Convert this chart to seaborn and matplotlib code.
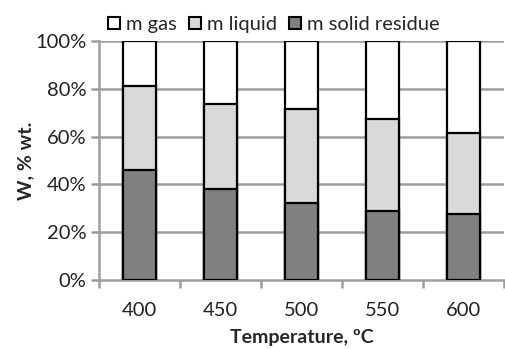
import matplotlib
matplotlib.use("Agg")
import matplotlib.pyplot as plt
import seaborn as sns
import numpy as np
import pandas as pd
from matplotlib.patches import Patch
from matplotlib.ticker import FixedLocator, PercentFormatter

temperatures = ["400", "450", "500", "550", "600"]
m_solid = [46.0, 38.1, 32.1, 29.0, 27.5]
m_liquid = [35.2, 35.4, 39.3, 38.4, 33.9]
m_gas = [18.8, 26.5, 28.6, 32.6, 38.6]

sns.set_theme(style="white")
plt.rcParams['font.family'] = ['Lato', 'DejaVu Sans']

df = pd.DataFrame({
    "T": temperatures,
    "solid": m_solid,
    "liquid": m_liquid,
    "gas": m_gas,
})
df["top_liquid"] = df["solid"] + df["liquid"]
df["top_gas"] = df["top_liquid"] + df["gas"]

fig = plt.figure(figsize=(5.05, 3.49), dpi=100)
ax = fig.add_axes([99/505, 1-280/349, 1-99/505-0.002, (280-41)/349])

grid_c = "#9e9e9e"
for y in [20, 40, 60, 80, 100]:
    ax.axhline(y, color=grid_c, lw=1.8, zorder=0)

kw = dict(width=0.4, edgecolor="black", linewidth=1.6, ax=ax, zorder=3)
sns.barplot(data=df, x="T", y="top_gas", color="white", saturation=1, **kw)
sns.barplot(data=df, x="T", y="top_liquid", color="#d9d9d9", saturation=1, **kw)
sns.barplot(data=df, x="T", y="solid", color="#808080", saturation=1, **kw)

ax.set_xlim(-0.5, 4.5)
ax.set_ylim(0, 100)
ax.yaxis.set_major_locator(FixedLocator([0, 20, 40, 60, 80, 100]))
ax.yaxis.set_major_formatter(PercentFormatter(decimals=0))

for s in ["top", "right"]:
    ax.spines[s].set_visible(False)
for s in ["left", "bottom"]:
    ax.spines[s].set_color(grid_c)
    ax.spines[s].set_linewidth(1.8)

ax.set_xticks(range(len(temperatures)))
ax.set_xticklabels(temperatures)
ax.xaxis.set_minor_locator(FixedLocator(np.arange(-0.5, 5.0, 1.0)))
ax.tick_params(axis="x", which="major", length=0, labelsize=14.5, pad=16, colors="#222222")
ax.tick_params(axis="x", which="minor", length=6, width=1.8, color=grid_c, direction="out", bottom=True)
ax.tick_params(axis="y", which="major", length=6, width=1.8, color=grid_c, direction="out", left=True,
               labelsize=14.5, labelcolor="#222222", pad=3)

ax.set_xlabel("Temperature, ºC", fontsize=14, fontweight="bold", labelpad=7)
ax.set_ylabel("W, % wt.", fontsize=14, fontweight="bold", labelpad=1)

handles = [
    Patch(facecolor="white", edgecolor="black", linewidth=1.5, label="m gas"),
    Patch(facecolor="#d9d9d9", edgecolor="black", linewidth=1.5, label="m liquid"),
    Patch(facecolor="#808080", edgecolor="black", linewidth=1.5, label="m solid residue"),
]
fig.legend(handles=handles, loc="upper left", bbox_to_anchor=(96/505, 1.0 - 4/349), ncol=3, frameon=False,
           fontsize=14.5, handlelength=0.6, handleheight=0.6, handletextpad=0.3, columnspacing=0.6,
           borderaxespad=0.2)

fig.savefig("out.png", dpi=100)
